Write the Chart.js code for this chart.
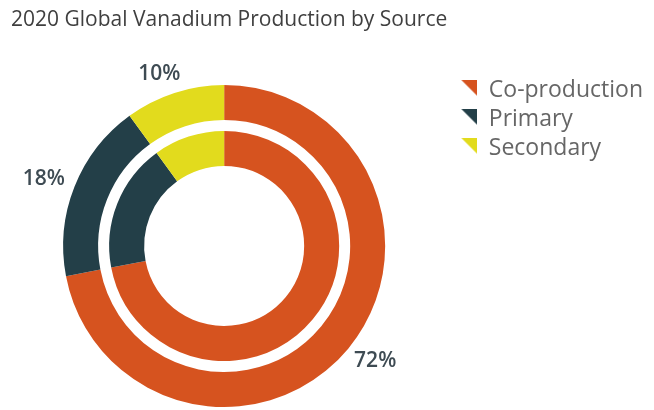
<!DOCTYPE html>
<html>
<head>
<meta charset="utf-8">
<style>
  html, body { margin: 0; padding: 0; background: #ffffff; }
  #wrap { width: 654px; height: 410px; position: relative; }
</style>
<script src="https://cdn.jsdelivr.net/npm/chart.js@4/dist/chart.umd.min.js"></script>
</head>
<body>
<div id="wrap"><canvas id="chart" width="654" height="410"></canvas></div>
<script>
// 2020 vanadium production split by source (percent of total)
const titleText = '2020 Global Vanadium Production by Source';
const categories = ['Co-production', 'Primary', 'Secondary'];
const shares = [72, 18, 10];
const sliceColors = ['#D6531F', '#233F48', '#E2DB1D'];

const FONT = "'Open Sans', 'Noto Sans', sans-serif";

// Legend marker: a right triangle (top edge + right edge), drawn on a
// wider transparent canvas so it sits a little to the right of the column start.
function makeMarker(color) {
  const c = document.createElement('canvas');
  c.width = 34; c.height = 20;
  const g = c.getContext('2d');
  g.fillStyle = color;
  g.beginPath();
  g.moveTo(18, 0);
  g.lineTo(34, 0);
  g.lineTo(34, 16);
  g.closePath();
  g.fill();
  return c;
}
const markers = sliceColors.map(makeMarker);

// Percentage labels placed just outside the outer ring, at each slice's mid-angle.
const outsideLabels = {
  id: 'outsideLabels',
  afterDatasetsDraw(chart) {
    const meta = chart.getDatasetMeta(0);
    const ctx = chart.ctx;
    ctx.save();
    ctx.font = "600 21px " + FONT;
    ctx.fillStyle = '#3E4B53';
    ctx.textAlign = 'center';
    ctx.textBaseline = 'middle';
    meta.data.forEach((arc, i) => {
      const p = arc.getProps(['x', 'y', 'startAngle', 'endAngle', 'outerRadius'], true);
      const mid = (p.startAngle + p.endAngle) / 2;
      const cos = Math.cos(mid), sin = Math.sin(mid);
      const r = p.outerRadius + 11;
      const text = shares[i] + '%';
      const w = ctx.measureText(text).width;
      // push the text box away from the ring so it never overlaps the arc
      const cx = p.x + cos * r + Math.sign(cos) * Math.sqrt(Math.abs(cos)) * w / 2;
      const cy = p.y + sin * r + sin * 9;
      ctx.fillText(text, cx, cy);
    });
    ctx.restore();
  }
};

new Chart(document.getElementById('chart'), {
  type: 'doughnut',
  data: {
    labels: categories,
    datasets: [
      { data: shares, backgroundColor: sliceColors, borderWidth: 0, weight: 35 },
      { data: shares, backgroundColor: 'rgba(0,0,0,0)', borderWidth: 0, weight: 11 },
      { data: shares, backgroundColor: sliceColors, borderWidth: 0, weight: 35 }
    ]
  },
  options: {
    responsive: false,
    animation: false,
    events: [],
    radius: 161,
    cutout: '49.7%',
    layout: { padding: { left: 11, right: 1, top: 0, bottom: 0 } },
    plugins: {
      title: {
        display: true,
        text: titleText,
        align: 'start',
        color: '#3F3F3F',
        font: { family: FONT, size: 21, weight: 'normal' },
        padding: { top: 7, bottom: 49.8 }
      },
      legend: {
        display: true,
        position: 'right',
        align: 'start',
        fullSize: true,
        title: {
          display: true,
          text: ' ',
          font: { family: FONT, size: 10 },
          padding: { top: 60.5, bottom: 0 }
        },
        labels: {
          usePointStyle: true,
          pointStyleWidth: 34,
          boxHeight: 16,
          padding: 6,
          color: '#5A5A5A',
          font: { family: FONT, size: 23 },
          generateLabels: () => categories.map((name, i) => ({
            text: name,
            fillStyle: sliceColors[i],
            strokeStyle: sliceColors[i],
            lineWidth: 0,
            pointStyle: markers[i],
            hidden: false,
            index: i
          }))
        }
      },
      tooltip: { enabled: false }
    }
  },
  plugins: [outsideLabels]
});
</script>
</body>
</html>
